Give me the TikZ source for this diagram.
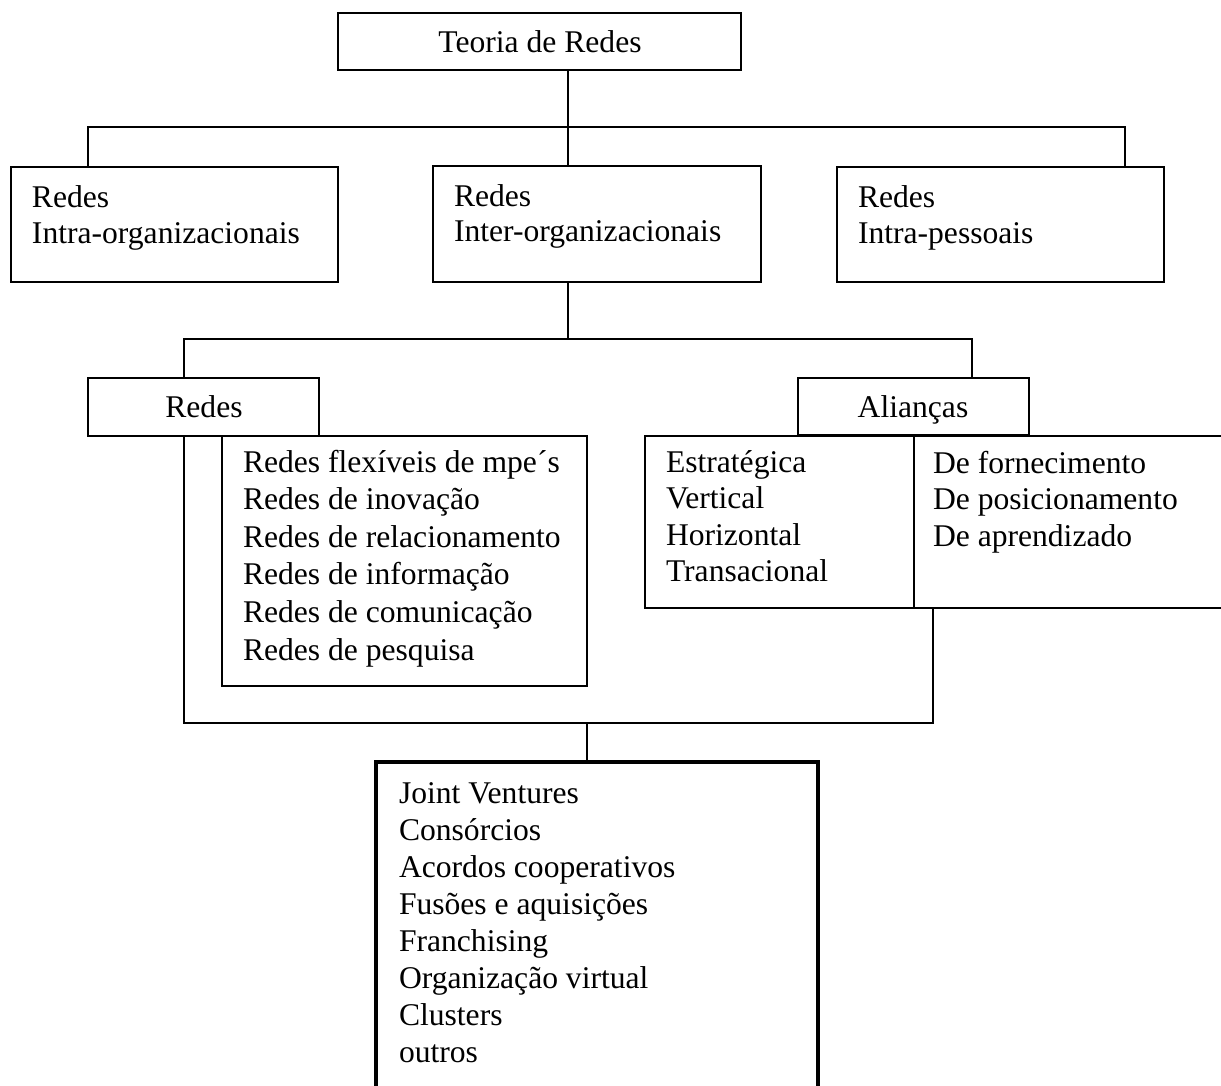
\documentclass[tikz,border=0pt]{standalone}
\usepackage{fontspec}
\setmainfont{Liberation Serif}
\usetikzlibrary{fit}

% Place a column of text lines, one node per line, starting at a given baseline.
\newcommand{\textlines}[5]{%
  \foreach \ln [count=\k from 0] in {#5}
    \node[txt, anchor=base west] (#1-\k) at (#2, #3 + \k*#4) {\ln};%
}

\begin{document}
\begin{tikzpicture}[
    x=0.5pt, y=-0.5pt,
    boxst/.style={draw, fill=white, line width=1pt, inner sep=0pt, rectangle},
    boldbox/.style={draw, fill=white, line width=2.2pt, inner sep=0pt, rectangle},
    txt/.style={inner sep=0pt, outer sep=0pt, font=\fontsize{15.8pt}{18.5pt}\selectfont},
    link/.style={line width=1pt},
  ]
  \useasboundingbox (0,0) rectangle (1221,1086);
  \clip (0,0) rectangle (1221,1086);

  % boxes
  \node[boxst, fit={(338,13) (741,70)}] (teoria) {};
  \node[boxst, fit={(11,167) (338,282)}] (intra) {};
  \node[boxst, fit={(433,166) (761,282)}] (inter) {};
  \node[boxst, fit={(837,167) (1164,282)}] (intrap) {};
  \node[boxst, fit={(88,378) (319,436)}] (redes) {};
  \node[boxst, fit={(798,378) (1029,435)}] (aliancas) {};
  \node[boxst, fit={(222,436) (587,686)}] (tipos) {};
  \node[boxst, fit={(645,436) (914,608)}] (estr) {};
  \node[boxst, fit={(914,436) (1232,608)}] (forn) {};
  \node[boldbox, fit={(376,762) (818,1100)}] (formas) {};

  % junction points of the connectors
  \coordinate (jA) at (568,127);
  \coordinate (jAL) at (88,127);
  \coordinate (jAR) at (1125,127);
  \coordinate (jB) at (568,339);
  \coordinate (jBL) at (184,339);
  \coordinate (jBR) at (972,339);
  \coordinate (jC) at (587,723);
  \coordinate (jCL) at (184,723);
  \coordinate (jCR) at (933,723);

  % connectors
  \draw[link] (teoria.south -| jA) -- (jA);
  \draw[link] (intra.north -| jAL) -- (jAL) -- (jAR) -- (intrap.north -| jAR);
  \draw[link] (jA) -- (inter.north -| jA);
  \draw[link] (inter.south -| jB) -- (jB);
  \draw[link] (redes.north -| jBL) -- (jBL) -- (jBR) -- (aliancas.north -| jBR);
  \draw[link] (redes.south -| jCL) -- (jCL) -- (jCR) -- (forn.south -| jCR);
  \draw[link] (jC) -- (formas.north -| jC);

  % texts
  \node[txt, anchor=base] (t-teoria) at (540,53) {Teoria de Redes};
  \textlines{t-intra}{32}{207}{36}{Redes,Intra-organizacionais}
  \textlines{t-inter}{454}{206}{36}{Redes,Inter-organizacionais}
  \textlines{t-intrap}{858}{207}{36}{Redes,Intra-pessoais}
  \node[txt, anchor=base] (t-redes) at (204,417) {Redes};
  \node[txt, anchor=base] (t-aliancas) at (913,417) {Alianças};
  \textlines{t-tipos}{243}{472}{37.6}{Redes flexíveis de mpe´s,Redes de inovação,Redes de relacionamento,Redes de informação,Redes de comunicação,Redes de pesquisa}
  \textlines{t-estr}{666}{472}{36.5}{Estratégica,Vertical,Horizontal,Transacional}
  \textlines{t-forn}{933}{473}{36.5}{De fornecimento,De posicionamento,De aprendizado}
  \textlines{t-formas}{399}{803}{37}{Joint Ventures,Consórcios,Acordos cooperativos,Fusões e aquisições,Franchising,Organização virtual,Clusters,outros}
\end{tikzpicture}
\end{document}
